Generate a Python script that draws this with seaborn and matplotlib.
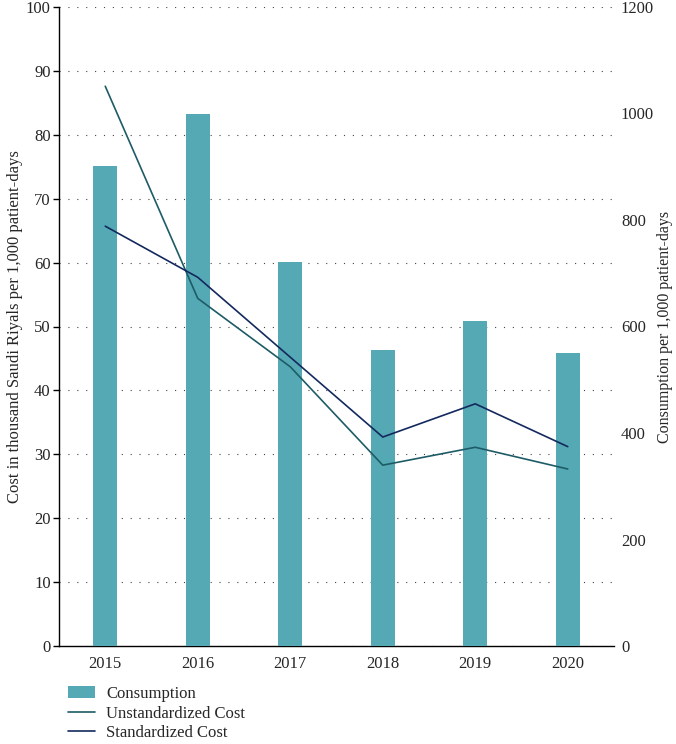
import matplotlib
matplotlib.use('Agg')
import matplotlib.pyplot as plt
import seaborn as sns
import pandas as pd
import numpy as np
from matplotlib.patches import Patch
from matplotlib.lines import Line2D

# values
years = ['2015', '2016', '2017', '2018', '2019', '2020']
consumption = [902, 999, 721, 556, 610, 550]
unstandardized_cost = [87.6, 54.4, 43.7, 28.3, 31.1, 27.7]
standardized_cost = [65.7, 57.7, 45.2, 32.7, 37.9, 31.2]

bar_color = '#55A9B4'
unstd_color = '#1D5C66'
std_color = '#13295E'

sns.set_style('white')
plt.rcParams['font.family'] = ['Liberation Serif', 'DejaVu Serif']
plt.rcParams['font.size'] = 12

data = pd.DataFrame({'year': years, 'consumption': consumption,
                     'unstd': unstandardized_cost, 'std': standardized_cost})

fig = plt.figure(figsize=(6.76, 7.44), dpi=100)
ax = fig.add_axes([59 / 676, 1 - 646 / 744, 555 / 676, 639 / 744])

# left axis: cost scale with dotted grid
ax.set_ylim(0, 100)
ax.set_yticks(np.arange(0, 101, 10))
ax.yaxis.grid(True, linestyle=(0, (1, 7)), color='#444444', linewidth=0.8)
ax.set_ylabel('Cost in thousand Saudi Riyals per 1,000 patient-days', fontsize=12, labelpad=2)

# bars on the consumption axis
ax2 = ax.twinx()
sns.barplot(data=data, x='year', y='consumption', ax=ax2, color=bar_color,
            width=0.26, saturation=1, edgecolor='none')
ax2.set_ylim(0, 1200)
ax2.set_yticks(np.arange(0, 1201, 200))
ax2.set_ylabel('Consumption per 1,000 patient-days', fontsize=11.5, labelpad=2)
ax2.set_xlabel('')

# lines on the cost scale, drawn above the bars
ax3 = ax.twinx()
sns.lineplot(x=np.arange(len(years)), y=unstandardized_cost, ax=ax3, color=unstd_color, linewidth=1.2)
sns.lineplot(x=np.arange(len(years)), y=standardized_cost, ax=ax3, color=std_color, linewidth=1.2)
ax3.set_ylim(0, 100)
ax3.set_yticks([])
for a in (ax, ax2, ax3):
    a.set_xlim(-0.5, len(years) - 0.5)

# x ticks between categories, labels at centers
ax.set_xticks(np.arange(-0.5, len(years), 1.0))
ax.set_xticklabels([])
ax.set_xticks(np.arange(len(years)), minor=True)
ax.set_xticklabels(years, minor=True)
ax.tick_params(axis='x', which='major', direction='out', length=5, width=1, color='black')
ax.tick_params(axis='x', which='minor', length=0, pad=7)
ax.tick_params(axis='y', direction='out', length=4, width=1, color='black', pad=2)
ax2.tick_params(axis='y', length=0, pad=5)
for a in (ax2, ax3):
    a.tick_params(axis='x', which='both', length=0, labelbottom=False)

for a in (ax, ax2, ax3):
    for s in ['top', 'right']:
        a.spines[s].set_visible(False)
    a.spines['left'].set_visible(a is ax)
    a.spines['bottom'].set_visible(a is ax)
ax.spines['left'].set_color('black')
ax.spines['bottom'].set_color('black')
ax.spines['left'].set_linewidth(1)
ax.spines['bottom'].set_linewidth(1)

handles = [Patch(facecolor=bar_color, edgecolor='none'),
           Line2D([0], [0], color=unstd_color, linewidth=1.2),
           Line2D([0], [0], color=std_color, linewidth=1.2)]
labels = ['Consumption', 'Unstandardized Cost', 'Standardized Cost']
fig.legend(handles, labels, loc='upper left', bbox_to_anchor=(68 / 676, 1 - 686 / 744),
           frameon=False, fontsize=12, handlelength=1.6, labelspacing=0.22, handletextpad=0.7,
           borderaxespad=0, borderpad=0)

fig.savefig('out.png', dpi=100)
